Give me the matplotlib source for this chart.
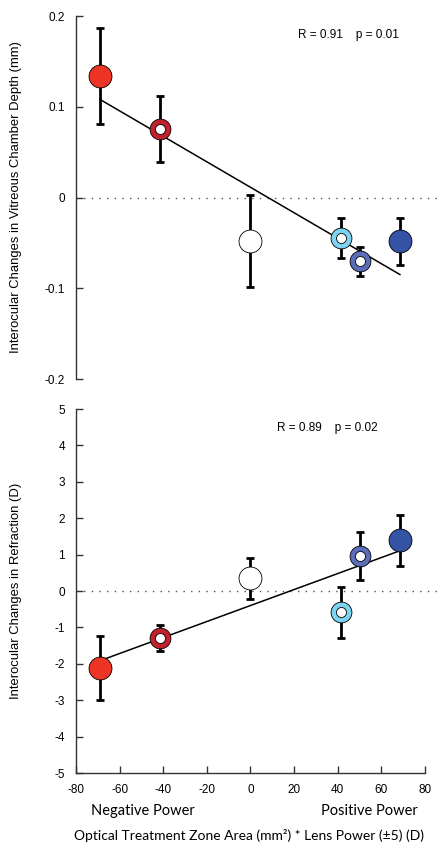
import matplotlib
matplotlib.use('Agg')
import matplotlib.pyplot as plt
import numpy as np

plt.rcParams['font.family'] = ['Liberation Sans', 'DejaVu Sans']
plt.rcParams['axes.unicode_minus'] = False

# Treatment x values (optical zone area * lens power)
x_values = [-69, -41.5, 0, 41.3, 50, 68.5]

# Vitreous chamber depth changes (mm) and error bars
vcd = [0.134, 0.0755, -0.048, -0.045, -0.070, -0.048]
vcd_err = [0.053, 0.036, 0.051, 0.022, 0.016, 0.026]

# Refraction changes (D) and error bars
refr = [-2.12, -1.29, 0.35, -0.59, 0.95, 1.39]
refr_err = [0.88, 0.37, 0.56, 0.70, 0.66, 0.71]

# marker style per group: filled, ring or open
face_colors = ['#EE3424', '#C1222D', '#FFFFFF', '#7DD4F2', '#5A6DB8', '#3553A4']
styles = ['filled', 'ring', 'open', 'ring', 'ring', 'filled']

stats_top = 'R = 0.91    p = 0.01'
stats_bottom = 'R = 0.89    p = 0.02'

fig = plt.figure(figsize=(4.46, 8.44), dpi=100)
ax1 = fig.add_axes([0.1704, 0.5509, 0.7825, 0.4301])
ax2 = fig.add_axes([0.1704, 0.0841, 0.7825, 0.4313])


def draw_panel(ax, y, yerr):
    slope, intercept = np.polyfit(x_values, y, 1)
    xs = np.array([min(x_values), max(x_values)])
    ax.plot(xs, slope * xs + intercept, color='black', lw=1.1, zorder=2)
    ax.plot([-80, 88], [0, 0], color='#555555', lw=1.0,
            linestyle=(0, (1, 4.5)), clip_on=False, zorder=1)
    ax.errorbar(x_values, y, yerr=yerr, fmt='none', ecolor='black',
                elinewidth=2.0, capsize=3, capthick=2.0, zorder=3)
    for xv, yv, c, s in zip(x_values, y, face_colors, styles):
        if s == 'ring':
            ax.plot(xv, yv, 'o', ms=15, mfc=c, mec='black', mew=0.6, zorder=4)
            ax.plot(xv, yv, 'o', ms=7.2, mfc='white', mec='black', mew=0.6, zorder=5)
        else:
            ax.plot(xv, yv, 'o', ms=16.5, mfc=c, mec='black', mew=0.6, zorder=4)
    ax.set_xlim(-80, 80)
    for side in ['top', 'right']:
        ax.spines[side].set_visible(False)
    for side in ['left', 'bottom']:
        ax.spines[side].set_color('#333333')
        ax.spines[side].set_linewidth(1.0)
    ax.tick_params(direction='in', length=5, width=1.0, color='#333333',
                   labelsize=8.5, pad=8)


draw_panel(ax1, vcd, vcd_err)
ax1.set_ylim(-0.2, 0.2)
ax1.set_yticks([-0.2, -0.1, 0, 0.1, 0.2])
ax1.set_yticklabels(['-0.2', '-0.1', '0', '0.1', '0.2'])
ax1.spines['bottom'].set_visible(False)
ax1.set_xticks([])
ax1.set_ylabel('Interocular Changes in Vitreous Chamber Depth (mm)', fontsize=9.4)
ax1.yaxis.set_label_coords(-0.155, 0.5)
ax1.text(21.8, 0.179, stats_top, fontsize=8.5, va='center', ha='left')

draw_panel(ax2, refr, refr_err)
ax2.set_ylim(-5, 5)
ax2.set_yticks(range(-5, 6))
ax2.set_xticks(range(-80, 81, 20))
ax2.set_ylabel('Interocular Changes in Refraction (D)', fontsize=9.4)
ax2.yaxis.set_label_coords(-0.155, 0.5)
ax2.text(12.2, 4.48, stats_bottom, fontsize=8.5, va='center', ha='left')

fig.text(143 / 446, 1 - 811 / 844, 'Negative Power', fontsize=10.5,
         family=['Lato', 'DejaVu Sans'], ha='center', va='center')
fig.text(369 / 446, 1 - 811 / 844, 'Positive Power', fontsize=10.5,
         family=['Lato', 'DejaVu Sans'], ha='center', va='center')
fig.text(249 / 446, 1 - 836 / 844,
         'Optical Treatment Zone Area (mm\u00b2) * Lens Power (\u00b15) (D)',
         fontsize=10, family=['Lato', 'DejaVu Sans'], ha='center', va='center')

fig.savefig('out.png', dpi=100)
